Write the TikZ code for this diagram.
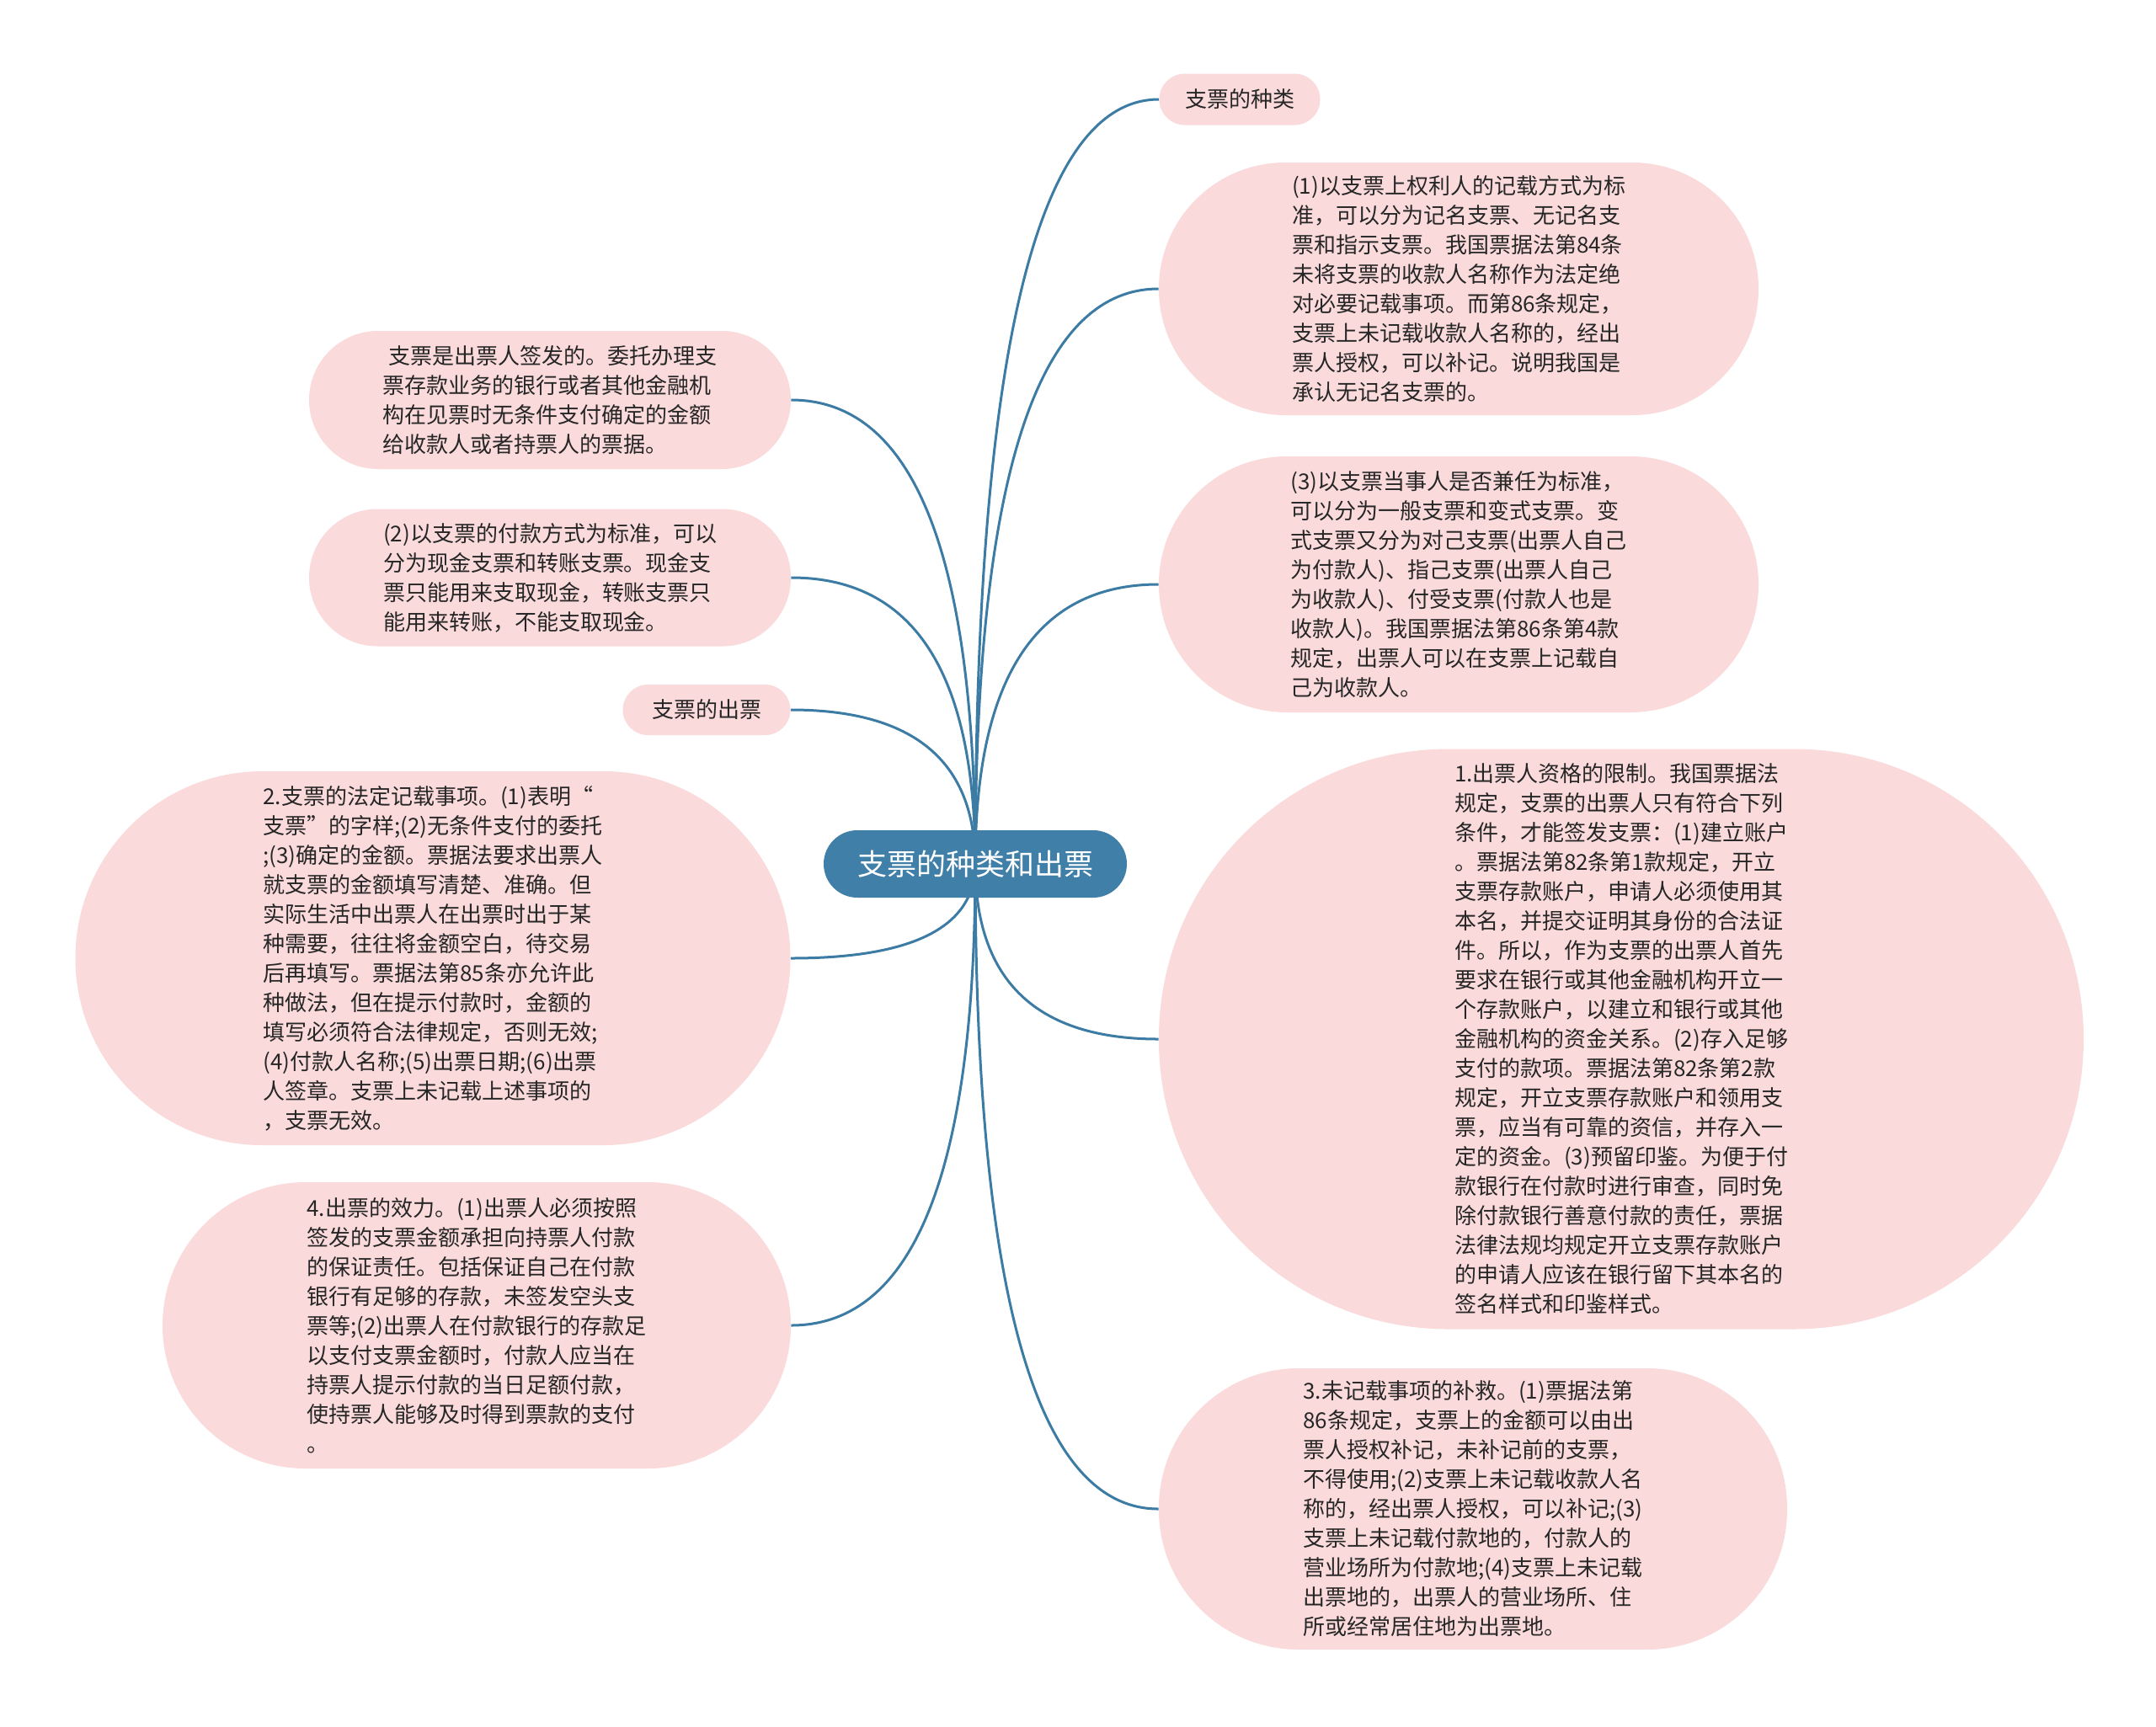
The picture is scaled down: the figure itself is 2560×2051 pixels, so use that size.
\documentclass[tikz,border=0pt]{standalone}
\usepackage{fontspec}
\setmainfont{Noto Sans CJK SC}
\usetikzlibrary{calc,backgrounds}
\definecolor{pinkfill}{HTML}{FADADB}
\definecolor{edgeblue}{HTML}{3B7BA4}
\definecolor{rootblue}{HTML}{3F7FA8}
\definecolor{txtcol}{HTML}{262626}
\newcommand\mmconn[2]{\draw[edgeline] (#1.center) .. controls ($(#1.center)!2/3!(#1.center |- #2)$) and ($(#2)!2/3!(#1.center |- #2)$) .. (#2);}
\begin{document}
\begin{tikzpicture}[x=0.5pt,y=-0.5pt,
  topic/.style={fill=pinkfill, draw=none, text=txtcol, align=left, inner sep=0pt,
    font=\fontsize{13pt}{17.5pt}\selectfont},
  rootnode/.style={fill=rootblue, draw=none, text=white, inner sep=0pt,
    font=\fontsize{17.5pt}{21pt}\selectfont, minimum width=180pt, minimum height=40pt, rounded corners=20pt},
  edgeline/.style={draw=edgeblue, line width=1.5pt}]
\path[use as bounding box] (0,0) rectangle (2560,2051);

\node[rootnode] (C) at (1158,1026) {支票的种类和出票};

\node[topic, minimum width=95.5pt, minimum height=30.5pt, rounded corners=15.2pt] (R1) at (1472,118) {支票的种类};

\node[topic, minimum width=356pt, minimum height=150pt, rounded corners=75pt] (R2) at (1732,343) {(1)以支票上权利人的记载方式为标\\准，可以分为记名支票、无记名支\\票和指示支票。我国票据法第84条\\未将支票的收款人名称作为法定绝\\对必要记载事项。而第86条规定，\\支票上未记载收款人名称的，经出\\票人授权，可以补记。说明我国是\\承认无记名支票的。};

\node[topic, minimum width=356pt, minimum height=152pt, rounded corners=76pt] (R3) at (1732,694) {(3)以支票当事人是否兼任为标准，\\可以分为一般支票和变式支票。变\\式支票又分为对己支票(出票人自己\\为付款人)、指己支票(出票人自己\\为收款人)、付受支票(付款人也是\\收款人)。我国票据法第86条第4款\\规定，出票人可以在支票上记载自\\己为收款人。};

\node[topic, minimum width=549pt, minimum height=344.5pt, rounded corners=172pt] (R4) at (1925,1234) {1.出票人资格的限制。我国票据法\\规定，支票的出票人只有符合下列\\条件，才能签发支票：(1)建立账户\\。票据法第82条第1款规定，开立\\支票存款账户，申请人必须使用其\\本名，并提交证明其身份的合法证\\件。所以，作为支票的出票人首先\\要求在银行或其他金融机构开立一\\个存款账户，以建立和银行或其他\\金融机构的资金关系。(2)存入足够\\支付的款项。票据法第82条第2款\\规定，开立支票存款账户和领用支\\票，应当有可靠的资信，并存入一\\定的资金。(3)预留印鉴。为便于付\\款银行在付款时进行审查，同时免\\除付款银行善意付款的责任，票据\\法律法规均规定开立支票存款账户\\的申请人应该在银行留下其本名的\\签名样式和印鉴样式。};

\node[topic, minimum width=373pt, minimum height=167pt, rounded corners=83pt] (R5) at (1749,1792) {3.未记载事项的补救。(1)票据法第\\86条规定，支票上的金额可以由出\\票人授权补记，未补记前的支票，\\不得使用;(2)支票上未记载收款人名\\称的，经出票人授权，可以补记;(3)\\支票上未记载付款地的，付款人的\\营业场所为付款地;(4)支票上未记载\\出票地的，出票人的营业场所、住\\所或经常居住地为出票地。};

\node[topic, minimum width=286pt, minimum height=82pt, rounded corners=41pt] (L1) at (653,475) {\hspace*{0.3em}支票是出票人签发的。委托办理支\\票存款业务的银行或者其他金融机\\构在见票时无条件支付确定的金额\\给收款人或者持票人的票据。};

\node[topic, minimum width=286pt, minimum height=81.5pt, rounded corners=40.7pt] (L2) at (653,686) {(2)以支票的付款方式为标准，可以\\分为现金支票和转账支票。现金支\\票只能用来支取现金，转账支票只\\能用来转账，不能支取现金。};

\node[topic, minimum width=99.5pt, minimum height=30pt, rounded corners=15pt] (L3) at (839,843) {支票的出票};

\node[topic, minimum width=424.5pt, minimum height=222pt, rounded corners=111pt] (L4) at (514,1138) {2.支票的法定记载事项。(1)表明“\\支票”的字样;(2)无条件支付的委托\\;(3)确定的金额。票据法要求出票人\\就支票的金额填写清楚、准确。但\\实际生活中出票人在出票时出于某\\种需要，往往将金额空白，待交易\\后再填写。票据法第85条亦允许此\\种做法，但在提示付款时，金额的\\填写必须符合法律规定，否则无效;\\(4)付款人名称;(5)出票日期;(6)出票\\人签章。支票上未记载上述事项的\\，支票无效。};

\node[topic, minimum width=373pt, minimum height=170pt, rounded corners=85pt] (L5) at (566,1574) {4.出票的效力。(1)出票人必须按照\\签发的支票金额承担向持票人付款\\的保证责任。包括保证自己在付款\\银行有足够的存款，未签发空头支\\票等;(2)出票人在付款银行的存款足\\以支付支票金额时，付款人应当在\\持票人提示付款的当日足额付款，\\使持票人能够及时得到票款的支付\\。};

\begin{scope}[on background layer]
\fill[white] (0,0) rectangle (2560,2051);
\mmconn{C}{R1.west}
\mmconn{C}{R2.west}
\mmconn{C}{R3.west}
\mmconn{C}{R4.west}
\mmconn{C}{R5.west}
\mmconn{C}{L1.east}
\mmconn{C}{L2.east}
\mmconn{C}{L3.east}
\mmconn{C}{L4.east}
\mmconn{C}{L5.east}
\end{scope}
\end{tikzpicture}
\end{document}
